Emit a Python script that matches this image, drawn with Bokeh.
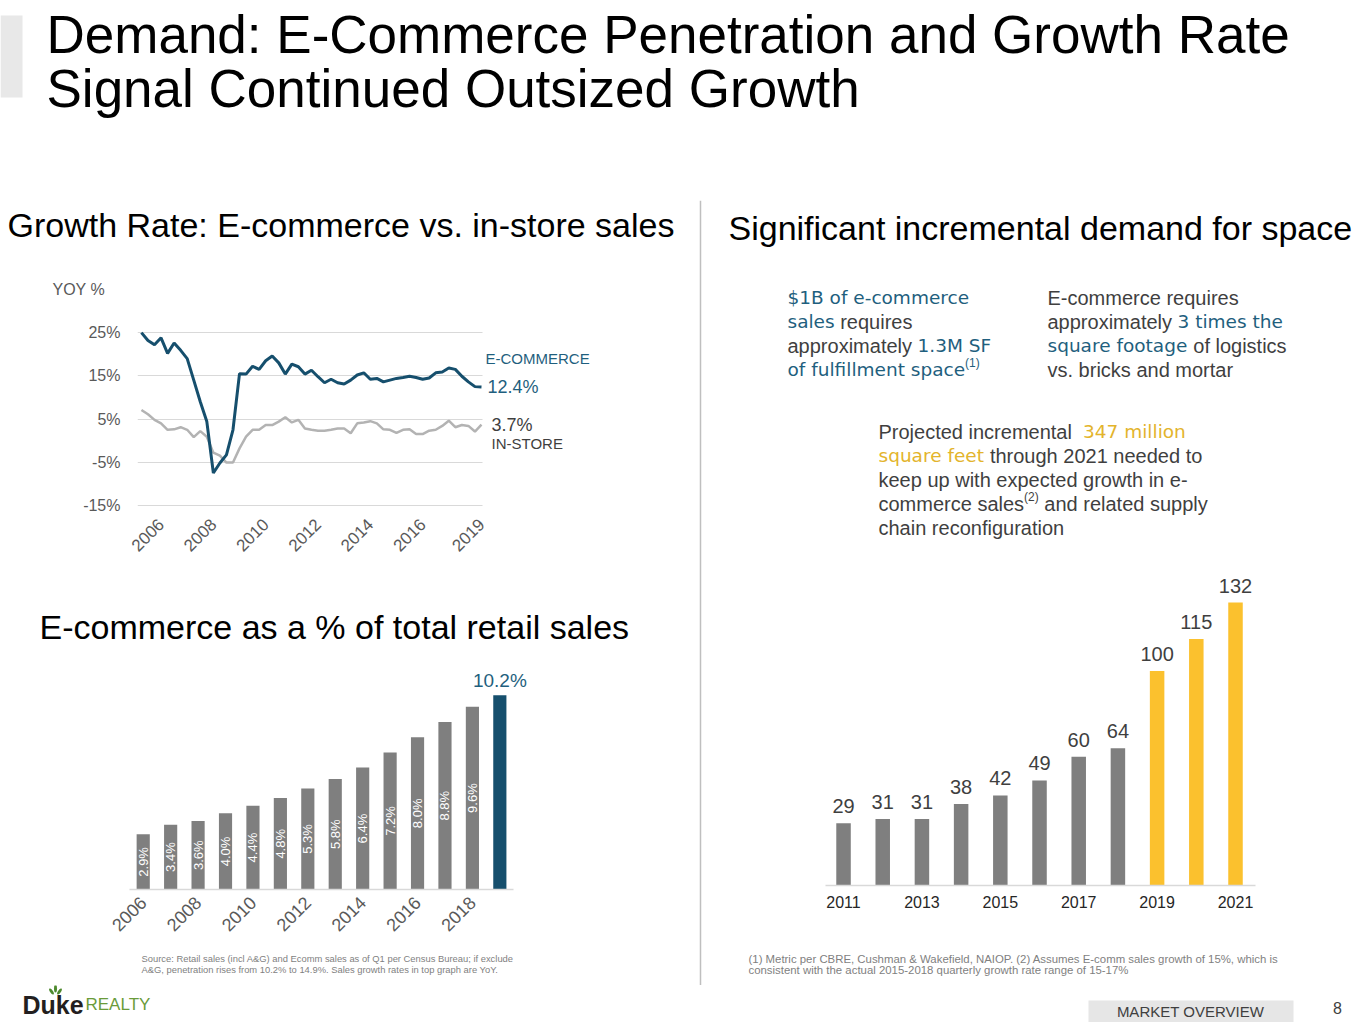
import math
import pandas as pd
from bokeh.plotting import figure
from bokeh.layouts import column, row
from bokeh.models import Range1d, FixedTicker, PrintfTickFormatter, CustomJSTickFormatter
from bokeh.core.properties import value
from bokeh.embed import file_html
from bokeh.resources import INLINE

# ---------------------------------------------------------------- data
title_lines = ["Demand: E-Commerce Penetration and Growth Rate",
               "Signal Continued Outsized Growth"]

# quarterly YoY growth, 2006Q1 .. 2019Q1
yoy_start = "2006Q1"
ecom_yoy = [25.0, 23.2, 22.2, 23.8, 20.2, 22.6, 20.9, 19.0, 14.0, 9.0, 4.4, -7.5, -5.2,
            -3.3, 2.5, 15.5, 15.4, 17.2, 16.5, 18.5, 19.6, 18.0, 15.4, 17.7, 17.1, 15.4,
            16.3, 14.8, 13.4, 14.2, 13.4, 13.1, 14.0, 15.2, 15.7, 14.2, 14.4, 13.6, 14.0,
            14.4, 14.6, 14.9, 14.6, 14.2, 14.5, 15.7, 15.9, 16.8, 16.5, 14.9, 13.6, 12.5, 12.4]
instore_yoy = [7.1, 6.1, 4.8, 4.0, 2.5, 2.6, 3.1, 2.5, 0.8, 2.2, 0.9, -2.8, -3.5,
               -5.1, -5.1, -1.8, 0.9, 2.5, 2.5, 3.6, 3.6, 4.4, 5.4, 4.2, 4.8, 2.8,
               2.5, 2.3, 2.3, 2.5, 2.8, 2.8, 1.7, 4.0, 4.2, 4.5, 4.0, 2.6, 2.5,
               1.8, 2.5, 2.6, 1.5, 1.5, 2.3, 2.5, 3.4, 4.6, 3.1, 3.6, 3.4, 2.1, 3.7]
yoy_ticks = [-15, -5, 5, 15, 25]
yoy_label_years = [2006, 2008, 2010, 2012, 2014, 2016, 2019]
yoy_label_quarters = [4, 4, 4, 4, 4, 4, 1]

pen_years = [2006, 2007, 2008, 2009, 2010, 2011, 2012, 2013, 2014, 2015, 2016, 2017, 2018, 2019]
pen_share = [2.9, 3.4, 3.6, 4.0, 4.4, 4.8, 5.3, 5.8, 6.4, 7.2, 8.0, 8.8, 9.6, 10.2]
pen_label_years = [2006, 2008, 2010, 2012, 2014, 2016, 2018]

space_years = [2011, 2012, 2013, 2014, 2015, 2016, 2017, 2018, 2019, 2020, 2021]
space_msf = [29, 31, 31, 38, 42, 49, 60, 64, 100, 115, 132]
space_status = ["actual", "actual", "actual", "actual", "actual", "actual", "actual",
                "actual", "projected", "projected", "projected"]
space_label_years = [2011, 2013, 2015, 2017, 2019, 2021]

source_lines = ["Source:  Retail sales (incl A&G) and Ecomm sales as of Q1 per Census Bureau; if exclude",
                "A&G, penetration rises from 10.2% to 14.9%.  Sales growth rates in top graph are YoY."]
note_lines = ["(1) Metric per CBRE, Cushman & Wakefield, NAIOP. (2) Assumes E-comm sales growth of 15%, which is",
              "consistent with the actual 2015-2018 quarterly growth rate range of 15-17%"]

# ---------------------------------------------------------------- style
SANS = "Liberation Sans"
WIDE = "DejaVu Sans"
INK = "#000000"
TXT = "#3f3f3f"
AXT = "#595959"
TEAL = "#1f5f7e"
NAVY = "#164f6d"
BAR_GREY = "#7f7f7f"
YELLOW = "#fbc12e"
YELLOW_TXT = "#e3b42c"
GRID = "#d9d9d9"

_chars = " !\"#$%&'()*+,-./0123456789:;<=>?@ABCDEFGHIJKLMNOPQRSTUVWXYZ[\\]^_`abcdefghijklmnopqrstuvwxyz"
_w = [278, 278, 355, 556, 556, 889, 667, 191, 333, 333, 389, 584, 278, 333, 278, 278,
      556, 556, 556, 556, 556, 556, 556, 556, 556, 556,
      278, 278, 584, 584, 584, 556, 1015,
      667, 667, 722, 722, 667, 611, 778, 722, 278, 500, 667, 556, 833, 722, 778, 667, 778,
      722, 667, 611, 722, 667, 944, 667, 667, 611,
      278, 278, 278, 469, 556, 333,
      556, 556, 500, 556, 556, 278, 556, 556, 222, 222, 500, 222, 833, 556, 556, 556, 556,
      333, 500, 278, 556, 500, 722, 500, 500, 500]
ARIAL = {c: w / 1000 for c, w in zip(_chars, _w)}
DEJAVU = {" ": .318, "$": .636, "%": .950, "(": .390, ")": .390, ",": .318, "-": .361, ".": .318,
          "A": .684, "B": .686, "C": .698, "D": .770, "E": .632, "F": .575, "M": .863, "S": .635,
          "a": .613, "b": .635, "c": .550, "d": .635, "e": .615, "f": .352, "g": .635, "h": .634,
          "i": .278, "j": .278, "k": .579, "l": .278, "m": .974, "n": .634, "o": .612, "p": .635,
          "q": .635, "r": .411, "s": .521, "t": .392, "u": .634, "v": .592, "w": .818, "x": .592,
          "y": .592, "z": .525}
for d in "0123456789":
    DEJAVU[d] = .636


def text_width(s, font, size):
    table = DEJAVU if font == WIDE else ARIAL
    return sum(table.get(c, 0.556) for c in s) * size


def canvas(w, h):
    p = figure(width=w, height=h, x_range=Range1d(0, w), y_range=Range1d(h, 0),
               x_axis_type=None, y_axis_type=None, toolbar_location=None,
               output_backend="svg", min_border=0)
    p.outline_line_color = None
    p.background_fill_color = "white"
    p.border_fill_color = "white"
    p.frame_align = False
    return p


def put(p, x, y, s, color=TXT, size=20, font=SANS, align="left", baseline="middle", style="normal"):
    p.text(x=[x], y=[y], text=[s], text_color=color, text_font=value(font),
           text_font_size=f"{size}px", text_align=align, text_baseline=baseline,
           text_font_style=style)


def runs(p, x, y, parts):
    cx = x
    for s, color, font, size, dy in parts:
        lead = len(s) - len(s.lstrip(" "))
        put(p, cx + text_width(" " * lead, font, size), y + dy, s.strip(" "),
            color=color, size=size, font=font)
        cx += text_width(s, font, size)


def style_axis(ax, size, color):
    ax.axis_line_color = None
    ax.major_tick_line_color = None
    ax.minor_tick_line_color = None
    ax.major_label_text_font = SANS
    ax.major_label_text_font_size = f"{size}px"
    ax.major_label_text_color = color


# ---------------------------------------------------------------- title
title_fig = canvas(1360, 200)
title_fig.quad(left=[0], right=[22], top=[15], bottom=[97], fill_color="#e8e8e8", line_color=None)
put(title_fig, 46, 34, title_lines[0], color=INK, size=53)
put(title_fig, 46, 88, title_lines[1], color=INK, size=53)

# ---------------------------------------------------------------- left column
lh1 = canvas(698, 100)
put(lh1, 7, 24, "Growth Rate: E-commerce vs. in-store sales", color=INK, size=34)
put(lh1, 52, 89, "YOY %", color=AXT, size=16)

periods = pd.period_range(yoy_start, periods=len(ecom_yoy), freq="Q")
qx = [pr.year + (pr.quarter - 1) / 4 for pr in periods]
tick_x = [y + (q - 1) / 4 for y, q in zip(yoy_label_years, yoy_label_quarters)]

# frame is wide enough to hold the end-of-line labels; grid lines stop at the data
lc = figure(width=698, height=275, x_range=Range1d(2005.85, 2026.99), y_range=Range1d(-15.5, 25.5),
            toolbar_location=None, output_backend="svg",
            min_border_left=137, min_border_right=8, min_border_top=30, min_border_bottom=68)
lc.frame_align = False
lc.outline_line_color = None
lc.xgrid.visible = False
lc.ygrid.grid_line_color = GRID
lc.ygrid.grid_line_width = 1
lc.ygrid.cross_bounds = (2005.85, 2019.04)
lc.yaxis.ticker = FixedTicker(ticks=yoy_ticks)
lc.yaxis.formatter = PrintfTickFormatter(format="%d%%")
lc.xaxis.ticker = FixedTicker(ticks=tick_x)
lc.xaxis.formatter = CustomJSTickFormatter(code="return Math.floor(tick + 1e-6).toString();")
lc.xaxis.major_label_orientation = math.pi / 4
style_axis(lc.yaxis[0], 16, AXT)
style_axis(lc.xaxis[0], 17, AXT)
lc.yaxis.major_tick_out = 0
lc.yaxis.major_label_standoff = 17
lc.xaxis.major_tick_out = 0
lc.xaxis.major_label_standoff = 14
lc.line(qx, instore_yoy, line_color="#b3b3b3", line_width=2.5)
lc.line(qx, ecom_yoy, line_color=NAVY, line_width=3)

for txt, yv, xo, yo, col, sz in [
        ("E-COMMERCE", ecom_yoy[-1], 4, -29, TEAL, 15),
        (f"{ecom_yoy[-1]:.1f}%", ecom_yoy[-1], 6, 0, TEAL, 18),
        (f"{instore_yoy[-1]:.1f}%", instore_yoy[-1], 10, 0, TXT, 18),
        ("IN-STORE", instore_yoy[-1], 10, 19, TXT, 15)]:
    lc.text(x=[qx[-1]], y=[yv], text=[txt], x_offset=xo, y_offset=yo, text_color=col,
            text_font=value(SANS), text_font_size=f"{sz}px", text_baseline="middle")

lh2 = canvas(698, 85)
put(lh2, 39, 51, "E-commerce as a % of  total retail sales", color=INK, size=34)

bc = figure(width=698, height=285, x_range=Range1d(2005.5, 2020.3), y_range=Range1d(0, 11.5),
            y_axis_type=None, toolbar_location=None, output_backend="svg",
            min_border_left=129, min_border_right=163, min_border_top=10, min_border_bottom=56)
bc.frame_align = False
bc.outline_line_color = None
bc.xgrid.visible = False
pen_colors = [BAR_GREY] * (len(pen_share) - 1) + [NAVY]
bc.vbar(x=pen_years, top=pen_share, width=0.48, fill_color=pen_colors, line_color=None)
bc.text(x=pen_years[:-1], y=[v / 2 for v in pen_share[:-1]], text=[f"{v:.1f}%" for v in pen_share[:-1]],
        angle=math.pi / 2, text_align="center", text_baseline="middle", text_color="white",
        text_font=value(SANS), text_font_size="13px")
bc.text(x=[pen_years[-1]], y=[pen_share[-1]], text=[f"{pen_share[-1]:.1f}%"], y_offset=-4,
        text_align="center", text_baseline="bottom", text_color=TEAL,
        text_font=value(SANS), text_font_size="19px")
bc.xaxis.ticker = FixedTicker(ticks=pen_label_years)
bc.xaxis.bounds = (2005.5, 2019.5)
style_axis(bc.xaxis[0], 18, AXT)
bc.xaxis.axis_line_color = GRID
bc.xaxis.axis_line_width = 1.5
bc.xaxis.major_tick_out = 0
bc.xaxis.major_label_standoff = 10
bc.xaxis.major_label_orientation = math.pi / 4

src = canvas(698, 40)
put(src, 141, 13, source_lines[0], color="#7f7f7f", size=9.4)
put(src, 141, 24, source_lines[1], color="#7f7f7f", size=9.4)

left_col = column(lh1, lc, lh2, bc, src)

# ---------------------------------------------------------------- divider
dv = canvas(4, 785)
dv.line(x=[2, 2], y=[0, 785], line_color="#bfbfbf", line_width=1.5)

# ---------------------------------------------------------------- right column
rh = canvas(658, 80)
put(rh, 26, 27, "Significant incremental demand for space", color=INK, size=34)

rt = canvas(658, 290)
TS = 18.5
b1 = 85
runs(rt, b1, 17, [("$1B of e-commerce", TEAL, WIDE, TS, 0)])
runs(rt, b1, 41, [("sales", TEAL, WIDE, TS, 0), (" requires", TXT, SANS, 20, 0)])
runs(rt, b1, 65, [("approximately ", TXT, SANS, 20, 0), ("1.3M SF", TEAL, WIDE, TS, 0)])
runs(rt, b1, 89, [("of fulfillment space", TEAL, WIDE, TS, 0), ("(1)", TEAL, SANS, 12, -7)])
b2 = 345
runs(rt, b2, 17, [("E-commerce requires", TXT, SANS, 20, 0)])
runs(rt, b2, 41, [("approximately ", TXT, SANS, 20, 0), ("3 times the", TEAL, WIDE, TS, 0)])
runs(rt, b2, 65, [("square footage", TEAL, WIDE, TS, 0), (" of logistics", TXT, SANS, 20, 0)])
runs(rt, b2, 89, [("vs. bricks and mortar", TXT, SANS, 20, 0)])
b3 = 176
runs(rt, b3, 151, [("Projected  incremental ", TXT, SANS, 20, 0), ("347 million", YELLOW_TXT, WIDE, TS, 0)])
runs(rt, b3, 175, [("square feet", YELLOW_TXT, WIDE, TS, 0), (" through 2021 needed to", TXT, SANS, 20, 0)])
runs(rt, b3, 199, [("keep up with expected growth in e-", TXT, SANS, 20, 0)])
runs(rt, b3, 223, [("commerce sales", TXT, SANS, 20, 0), ("(2)", TXT, SANS, 12, -7),
                   (" and related supply", TXT, SANS, 20, 0)])
runs(rt, b3, 247, [("chain reconfiguration", TXT, SANS, 20, 0)])

rc = figure(width=658, height=355, x_range=Range1d(2010.54, 2021.51), y_range=Range1d(0, 146),
            y_axis_type=None, toolbar_location=None, output_backend="svg",
            min_border_left=123, min_border_right=105, min_border_top=2, min_border_bottom=40)
rc.frame_align = False
rc.outline_line_color = None
rc.xgrid.visible = False
space_colors = [YELLOW if s == "projected" else BAR_GREY for s in space_status]
rc.vbar(x=space_years, top=space_msf, width=0.37, fill_color=space_colors, line_color=None)
rc.text(x=space_years, y=space_msf, text=[str(v) for v in space_msf], y_offset=-10,
        text_align="center", text_baseline="bottom", text_color=TXT,
        text_font=value(SANS), text_font_size="20px")
rc.xaxis.ticker = FixedTicker(ticks=space_label_years)
style_axis(rc.xaxis[0], 16, "#262626")
rc.xaxis.axis_line_color = GRID
rc.xaxis.axis_line_width = 1.5
rc.xaxis.major_tick_out = 0
rc.xaxis.major_label_standoff = 10

rf = canvas(658, 60)
put(rf, 46, 33, note_lines[0], color="#7f7f7f", size=11.4)
put(rf, 46, 44, note_lines[1], color="#7f7f7f", size=11.4)

right_col = column(rh, rt, rc, rf)

# ---------------------------------------------------------------- footer
ft = canvas(1360, 37)
ft.ellipse(x=[51, 55, 59], y=[6, 3, 6], width=[3, 3, 3], height=[7, 8, 7], angle=[0.6, 0, -0.6],
           fill_color="#4e8a2e", line_color=None)
put(ft, 22, 19, "Duke", color="#231f20", size=25, style="bold")
put(ft, 85, 19, "REALTY", color="#6a9b3a", size=17)
ft.quad(left=[1088], right=[1293], top=[15], bottom=[37], fill_color="#e6e6e6", line_color=None)
put(ft, 1190, 26, "MARKET OVERVIEW", color=TXT, size=15, align="center")
put(ft, 1337, 22, "8", color=TXT, size=16, align="center")

page = column(title_fig, row(left_col, dv, right_col), ft)

open("out.html", "w").write(file_html(page, INLINE))
